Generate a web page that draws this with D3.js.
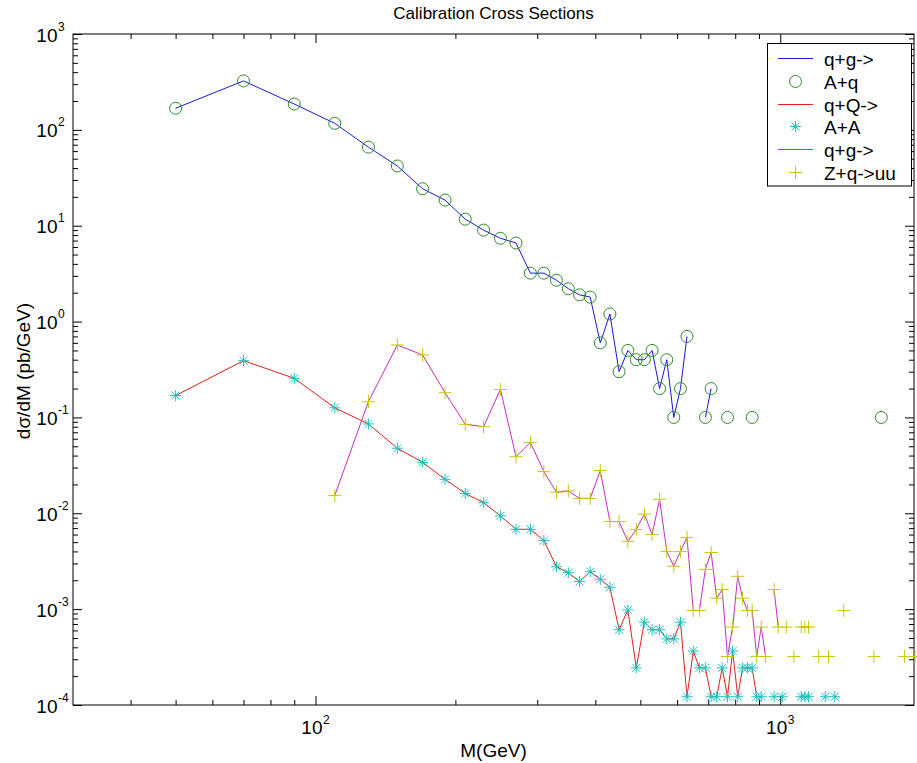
<!DOCTYPE html>
<html><head><meta charset="utf-8">
<script src="https://cdn.jsdelivr.net/npm/d3@7"></script>
<style>body{margin:0;background:#fff}svg{display:block}text{font-family:"Liberation Sans",Arial,sans-serif;fill:#000}</style>
</head><body><svg id="c" width="917" height="763"></svg>
<script>
// ---- data ----
const titleText = "Calibration Cross Sections";
const xLabel = "M(GeV)";
const yLabel = "dσ/dM (pb/GeV)";
const legendLabels = ["q+g->", "A+q", "q+Q->", "A+A", "q+g->", "Z+q->uu"];
const xMajorTicks = [100, 1000];
const yMajorTicks = [1e-4, 1e-3, 1e-2, 1e-1, 1, 10, 100, 1000];

const aqMass = [50,70,90,110,130,150,170,190,210,230,250,270,290,310,330,350,370,390,410,430,450,470,490,510,530,550,570,590,610,630,650,690,710,730,770,790,870,890,1650];
const aqVal  = [168,324,186,117,66,42,24.3,18.5,11.7,9.0,7.4,6.6,3.2,3.2,2.7,2.2,1.9,1.8,0.6,1.2,0.3,0.5,0.4,0.4,0.5,0.2,0.4,0.1,0.2,0.7,null,0.1,0.2,null,0.1,null,0.1,null,0.1];

const aaMass = [50,70,90,110,130,150,170,190,210,230,250,270,290,310,330,350,370,390,410,430,450,470,490,510,530,550,570,590,610,630,650,670,690,710,730,750,770,790,810,830,850,870,890,910,930,970,990,1010,1030,1110,1130,1150,1170,1250,1270,1310];
const aaVal  = [0.169,0.391,0.256,0.126,0.0855,0.0477,0.034,0.0226,0.0161,0.0129,0.0094,0.0068,0.0068,0.0052,0.00277,0.0024,0.00194,0.00246,0.00205,0.00169,0.00061,0.00098,0.000244,0.00073,0.00061,0.00061,0.00049,0.00049,0.00073,0.000122,0.000366,0.000244,0.000244,0.000122,0.000122,0.000244,0.000122,0.000366,0.000122,0.000244,0.000244,0.000244,0.000122,0.000122,null,0.000122,null,0.000122,null,0.000122,0.000122,0.000122,null,0.000122,null,0.000122];

const zqMass = [110,130,150,170,190,210,230,250,270,290,310,330,350,370,390,410,430,450,470,490,510,530,550,570,590,610,630,650,670,690,710,730,750,770,790,810,830,850,870,890,910,930,950,970,990,1010,1030,1050,1070,1090,1110,1130,1150,1170,1210,1230,1270,1290,1370,1390,1590,1610,1850,1870,1950];
const zqVal  = [0.0153,0.146,0.57,0.448,0.181,0.0848,0.080,0.196,0.0389,0.0549,0.0272,0.0166,0.0171,0.0143,0.0143,0.0279,0.0082,0.0082,0.0051,0.0068,0.0098,0.0060,0.014,0.0040,0.0028,0.0040,0.0056,0.00097,0.00097,0.0026,0.0039,0.0013,0.0016,0.00032,0.00065,0.0022,0.0013,0.00097,0.00097,0.00032,0.00065,0.00032,null,0.0016,0.00065,null,0.00065,null,0.00032,null,0.00065,0.00065,0.00065,null,0.00032,null,0.00032,null,0.00097,null,0.00032,null,0.00032,null,0.00032];

// ---- layout ----
const svg = d3.select("#c");
const L = 73, R = 914, T = 34, B = 705;
const x = d3.scaleLog().domain([30, 1940]).range([L - 0.5, R]);
const y = d3.scaleLog().domain([1e-4, 1e3]).range([B, T]);

const col = {blue:"#1a1ad8", green:"#2e8b2e", red:"#e02020", cyan:"#20c0c0", mag:"#c030c0", yel:"#c8c800"};

// minor ticks
const xMinor = [], yMinor = [];
[10,100,1000].forEach(d => { for (let k = 2; k <= 9; k++) { const v = d*k; if (v > 30 && v < 1940) xMinor.push(v); } });
[1e-4,1e-3,1e-2,1e-1,1,10,100].forEach(d => { for (let k = 2; k <= 9; k++) yMinor.push(d*k); });

const gAx = svg.append("g");
function ax(gen, vals, size, tr) {
  const g = gAx.append("g").attr("transform", tr).call(gen.tickValues(vals).tickSize(size).tickFormat(""));
  g.select(".domain").remove();
  g.selectAll("line").attr("stroke", "#000");
}
ax(d3.axisBottom(x), xMajorTicks, -9, `translate(0,${B})`);
ax(d3.axisBottom(x), xMinor, -5, `translate(0,${B})`);
ax(d3.axisTop(x), xMajorTicks, -9, `translate(0,${T})`);
ax(d3.axisTop(x), xMinor, -5, `translate(0,${T})`);
ax(d3.axisLeft(y), yMajorTicks, -9, `translate(${L},0)`);
ax(d3.axisLeft(y), yMinor, -5, `translate(${L},0)`);
ax(d3.axisRight(y), yMajorTicks, -9, `translate(${R},0)`);
ax(d3.axisRight(y), yMinor, -5, `translate(${R},0)`);
svg.append("rect").attr("x", L).attr("y", T).attr("width", R - L).attr("height", B - T)
  .attr("fill", "none").attr("stroke", "#000").attr("stroke-width", 1);

// tick labels
const fs = 19;
yMajorTicks.forEach(v => {
  const e = Math.round(Math.log10(v));
  svg.append("text").attr("x", 57.5).attr("y", y(v) + 7.5).attr("text-anchor", "end").attr("font-size", fs).text("10");
  svg.append("text").attr("x", 58).attr("y", y(v) - 3.5).attr("font-size", 12).text(String(e));
});
xMajorTicks.forEach(v => {
  const e = Math.round(Math.log10(v));
  svg.append("text").attr("x", x(v) + 7).attr("y", 734).attr("text-anchor", "end").attr("font-size", fs).text("10");
  svg.append("text").attr("x", x(v) + 7.5).attr("y", 724).attr("font-size", 12).text(String(e));
});

svg.append("text").attr("x", (L + R) / 2).attr("y", 19).attr("text-anchor", "middle").attr("font-size", 17).text(titleText);
svg.append("text").attr("x", (L + R) / 2).attr("y", 757).attr("text-anchor", "middle").attr("font-size", 19).text(xLabel);
svg.append("text").attr("transform", "translate(30,371) rotate(-90)").attr("text-anchor", "middle").attr("font-size", 19).text(yLabel);

// series
function series(mass, vals) { return mass.map((m, i) => ({m, v: vals[i]})); }
const line = d3.line().defined(d => d.v != null).x(d => x(d.m)).y(d => y(d.v));
const plot = svg.append("g");
function drawLine(data, c) {
  plot.append("path").datum(data).attr("d", line).attr("fill", "none").attr("stroke", c).attr("stroke-width", 1);
}
function circ(g, cx, cy) { g.append("circle").attr("cx", cx).attr("cy", cy).attr("r", 6).attr("fill", "none").attr("stroke", col.green).attr("stroke-width", 1); }
function star(g, cx, cy) {
  const s = 5.5, d = 4;
  g.append("path").attr("d", `M${cx - s},${cy}H${cx + s}M${cx},${cy - s}V${cy + s}M${cx - d},${cy - d}L${cx + d},${cy + d}M${cx - d},${cy + d}L${cx + d},${cy - d}`)
    .attr("stroke", col.cyan).attr("stroke-width", 1).attr("fill", "none");
}
function plus(g, cx, cy) {
  const s = 6.5;
  g.append("path").attr("d", `M${cx - s},${cy}H${cx + s}M${cx},${cy - s}V${cy + s}`)
    .attr("stroke", col.yel).attr("stroke-width", 1).attr("fill", "none");
}
const sAQ = series(aqMass, aqVal), sAA = series(aaMass, aaVal), sZQ = series(zqMass, zqVal);
drawLine(sAQ, col.blue);
sAQ.filter(d => d.v != null).forEach(d => circ(plot, x(d.m), y(d.v)));
drawLine(sAA, col.red);
sAA.filter(d => d.v != null).forEach(d => star(plot, x(d.m), y(d.v)));
drawLine(sZQ, col.mag);
sZQ.filter(d => d.v != null).forEach(d => plus(plot, x(d.m), y(d.v)));

// legend
const lg = svg.append("g");
lg.append("rect").attr("x", 767.5).attr("y", 43.5).attr("width", 144).attr("height", 142.5).attr("fill", "#fff").attr("stroke", "#000");
const rowY = i => Math.round(57.7 + i * 22.9) + 0.5;
legendLabels.forEach((t, i) => {
  lg.append("text").attr("x", 824).attr("y", rowY(i) + 7).attr("font-size", 19).text(t);
});
[[0, col.blue], [2, col.red], [4, col.mag]].forEach(([i, c]) => {
  lg.append("line").attr("x1", 778).attr("x2", 813).attr("y1", rowY(i)).attr("y2", rowY(i)).attr("stroke", c).attr("stroke-width", 1);
});
circ(lg, 795.5, rowY(1));
star(lg, 795.5, rowY(3));
plus(lg, 795.5, rowY(5));
</script></body></html>
